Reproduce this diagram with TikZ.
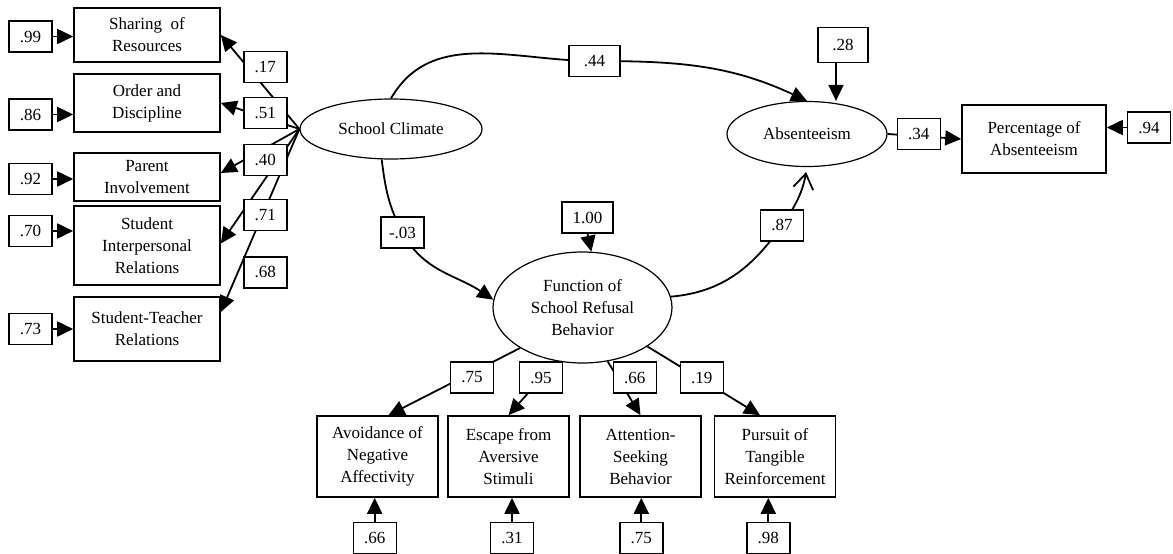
\documentclass[tikz,border=0pt]{standalone}
\usepackage{fontspec}
\setmainfont{Liberation Serif}
\usetikzlibrary{arrows.meta,shapes.geometric}
\begin{document}
\begin{tikzpicture}[x=1pt,y=1pt,font=\fontsize{17}{22}\selectfont,
  ind/.style={draw,line width=1.6pt,align=center,minimum width=146pt},
  lat/.style={draw,ellipse,line width=1.2pt,align=center},
  num/.style={draw,line width=1.4pt,fill=white,minimum width=43pt,minimum height=31pt},
  arr/.style={line width=1.8pt,-{Triangle[length=16pt,width=15pt]}},
  barb/.style={line width=1.8pt,-{Straight Barb[length=15pt,width=20pt]}}]
  \tikzstyle{every node}+=[inner sep=0pt]
  \useasboundingbox (0,0) rectangle (1173,-554);
  \node[ind,minimum height=54pt] (sharing) at (147,-35) {Sharing~ of\\Resources};
  \node[ind,minimum height=58pt] (order) at (147,-103) {Order and\\Discipline};
  \node[ind,minimum height=48pt] (parent) at (147,-177) {Parent\\Involvement};
  \node[ind,minimum height=79pt] (sinter) at (147,-245.5) {Student\\Interpersonal\\Relations};
  \node[ind,minimum height=64pt] (steach) at (147,-329) {Student-Teacher\\Relations};
  \node[num] (e1) at (30.5,-36.5) {.99};
  \node[num] (e2) at (30.5,-114.5) {.86};
  \node[num] (e3) at (30.5,-179) {.92};
  \node[num] (e4) at (30.5,-231) {.70};
  \node[num] (e5) at (30.5,-329) {.73};
  \node[lat,minimum width=182pt,minimum height=60pt] (climate) at (391,-129) {School Climate};
  \node[lat,minimum width=160pt,minimum height=65pt] (absent) at (807,-134) {Absenteeism};
  \node[lat,minimum width=179pt,minimum height=111pt] (refusal) at (582.5,-307.5) {Function of\\School Refusal\\Behavior};
  \node[ind,minimum width=144pt,minimum height=68pt] (pct) at (1034,-139) {Percentage of\\Absenteeism};
  \node[num,minimum width=50pt,minimum height=35pt] (e28) at (843,-45) {.28};
  \node[num] (e94) at (1149,-127.5) {.94};
  \node[num,minimum width=51pt] (e100) at (587.5,-217.5) {1.00};
  \node[ind,minimum width=121pt,minimum height=81pt] (avoid) at (377.5,-456.5) {Avoidance of\\Negative\\Affectivity};
  \node[ind,minimum width=121pt,minimum height=81pt] (escape) at (508.5,-456.5) {Escape from\\Aversive\\Stimuli};
  \node[ind,minimum width=121pt,minimum height=81pt] (attn) at (640.5,-456.5) {Attention-\\Seeking\\Behavior};
  \node[ind,minimum width=121pt,minimum height=81pt] (pursuit) at (775,-456.5) {Pursuit of\\Tangible\\Reinforcement};
  \node[num] (e6) at (374.7,-537.7) {.66};
  \node[num] (e7) at (512,-537.7) {.31};
  \node[num] (e8) at (641.3,-537.7) {.75};
  \node[num] (e9) at (768.3,-537.7) {.98};
  \coordinate (p44) at (594.5,-61);
  \coordinate (p03) at (402.5,-232.5);
  \coordinate (p87) at (782,-225.3);
  \draw[arr] (e1.east) -- (e1.east -| sharing.west);
  \draw[arr] (e2.east) -- (e2.east -| order.west);
  \draw[arr] (e3.east) -- (e3.east -| parent.west);
  \draw[arr] (e4.east) -- (e4.east -| sinter.west);
  \draw[arr] (e5.east) -- (e5.east -| steach.west);
  \draw[arr] (climate.west) -- (sharing.east);
  \draw[arr] (climate.west) -- (order.east);
  \draw[arr] (climate.west) -- ([yshift=4pt]parent.east);
  \draw[arr] (climate.west) -- ([yshift=2pt]sinter.east);
  \draw[arr] (climate.west) -- ([yshift=17pt]steach.east);
  \draw[arr] (climate.north) to[out=60,in=180] (p44) to[out=0,in=155] (absent.north);
  \draw[arr] (climate.253) to[out=-83,in=118] (p03) to[out=-62,in=146] (refusal.175);
  \draw[barb,shorten >=5pt] (refusal.7) to[out=5,in=235] (p87) to[out=55,in=260] (absent.south);
  \draw[arr] ([xshift=-7pt]e28.south) -- ([xshift=-7pt]e28.south |- absent.north);
  \draw[arr] (e100.south) -- (refusal.81);
  \draw[arr] (absent.east) -- (pct.west);
  \draw[arr] (e94.west) -- (e94.west -| pct.east);
  \draw[arr] (refusal.213) -- ([xshift=11pt]avoid.north);
  \draw[arr] (refusal.244) -- (escape.north);
  \draw[arr] (refusal.295) -- (attn.north);
  \draw[arr] (refusal.329) -- ([xshift=-15pt]pursuit.north);
  \draw[arr] (e6.north) -- (e6.north |- avoid.south);
  \draw[arr] (e7.north) -- (e7.north |- escape.south);
  \draw[arr] (e8.north) -- (e8.north |- attn.south);
  \draw[arr] (e9.north) -- (e9.north |- pursuit.south);
  \node[num] (l17) at (265.3,-66.7) {.17};
  \node[num] (l51) at (265.3,-112.7) {.51};
  \node[num] (l40) at (265.3,-159.7) {.40};
  \node[num] (l71) at (265.3,-215) {.71};
  \node[num] (l68) at (265.3,-272.3) {.68};
  \node[num,minimum width=51pt] (l44) at (p44) {.44};
  \node[num] (l03) at (p03) {-.03};
  \node[num] (l87) at (p87) {.87};
  \node[num] (l34) at (918.8,-133.7) {.34};
  \node[num] (l75) at (472,-377.5) {.75};
  \node[num] (l95) at (541,-377.5) {.95};
  \node[num] (l66) at (634.7,-377.5) {.66};
  \node[num] (l19) at (701.7,-377.5) {.19};
\end{tikzpicture}
\end{document}
